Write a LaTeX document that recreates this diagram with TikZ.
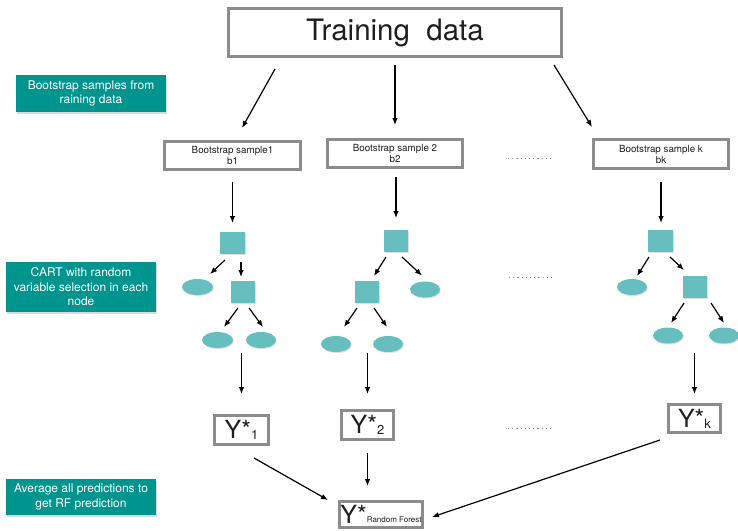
\documentclass[tikz,border=0pt]{standalone}
\usepackage{fontspec}
\setmainfont{TeX Gyre Heros}
\usepackage{tikz}
\usetikzlibrary{arrows.meta,positioning,fit,calc,shapes.geometric,shadows}
\definecolor{tealdark}{HTML}{00948F}
\definecolor{teallight}{HTML}{67BEBE}
\definecolor{framegray}{HTML}{8C8C8C}
\definecolor{inkgray}{HTML}{1E1E1E}
\tikzset{
  frame/.style={draw=framegray, line width=3.3pt, fill=white, inner sep=0pt, outer sep=0pt, align=center, text=inkgray},
  sample/.style={frame, minimum width=135pt, minimum height=28pt, font=\fontsize{9.8}{11}\selectfont},
  pred/.style={frame, minimum width=53pt, minimum height=29pt},
  note/.style={fill=tealdark, text=white, inner sep=0pt, outer sep=0pt, align=center, minimum width=150pt, font=\fontsize{12}{14.5}\selectfont, drop shadow={shadow xshift=1pt, shadow yshift=-1.5pt, opacity=.3}},
  split/.style={rectangle, fill=teallight, inner sep=0pt, outer sep=0pt, minimum width=25pt, minimum height=22pt, drop shadow={shadow xshift=.8pt, shadow yshift=-1pt, opacity=.25}},
  leaf/.style={ellipse, fill=teallight, inner sep=0pt, outer sep=0pt, minimum width=31pt, minimum height=16pt, drop shadow={shadow xshift=.8pt, shadow yshift=-1pt, opacity=.25}},
  tree/.style={inner sep=0pt, outer sep=0pt},
  arr/.style={-{Latex[length=7pt,width=5.5pt]}, line width=1.2pt},
  gap/.style={draw=framegray, line width=1pt, dash pattern=on 1.2pt off 3pt},
}
\newcommand{\ystar}[1]{{\fontsize{25}{25}\selectfont Y*}\raisebox{-1pt}{\fontsize{13}{13}\selectfont #1}}

\begin{document}
\begin{tikzpicture}[x=1pt, y=-1pt]
\useasboundingbox (0,0) rectangle (738,530);
\node[frame, minimum width=333pt, minimum height=48pt, font=\fontsize{29.5}{29.5}\selectfont] (td) at (395,32.5) {Training\ \ data};
\node[note, minimum height=37pt] (n1) at (91,93.5) {Bootstrap samples from\\raining data};
\node[note, minimum height=50pt] (n2) at (81,287) {CART with random\\variable selection in each\\node};
\node[note, minimum height=36pt] (n3) at (81,497) {Average all predictions to\\get RF prediction};
\node[sample, minimum width=136pt] (b1) at (232.5,155.5) {Bootstrap sample1\\b1};
\node[sample] (b2) at (395,153.5) {Bootstrap sample 2\\b2};
\node[sample, minimum height=29pt] (b3) at (661,154) {Bootstrap sample k\\bk};
\node[split] (s1a) at (232.5,243) {};
\node[leaf] (e1a) at (197.5,287) {};
\node[split, minimum width=24pt] (s1b) at (243,292) {};
\node[leaf] (e1b) at (217.5,340) {};
\node[leaf, minimum width=30pt] (e1c) at (261,340) {};
\node[split, minimum width=24pt] (s2a) at (396,241) {};
\node[split, minimum width=24pt] (s2b) at (367,292) {};
\node[leaf, minimum width=30pt] (e2a) at (425,289.5) {};
\node[leaf, minimum width=30pt] (e2b) at (336,344) {};
\node[leaf, minimum width=30pt] (e2c) at (388,344) {};
\node[split] (s3a) at (660.5,241) {};
\node[leaf, minimum width=30pt] (e3a) at (632,287) {};
\node[split, minimum width=24pt] (s3b) at (695,287) {};
\node[leaf, minimum width=30pt] (e3b) at (668,335.5) {};
\node[leaf, minimum width=30pt] (e3c) at (724,335.5) {};
\node[tree, fit=(s1a)(e1a)(e1b)(e1c)] (t1) {};
\node[tree, fit=(s2a)(e2a)(e2b)(e2c)] (t2) {};
\node[tree, fit=(s3a)(e3a)(e3b)(e3c)] (t3) {};
\node[pred, minimum width=54pt] (y1) at (241.5,430) {\ystar{1}};
\node[pred, minimum width=52pt] (y2) at (367.5,425) {\ystar{2}};
\node[pred, minimum width=52pt, minimum height=28pt] (yk) at (694.5,418.5) {\ystar{k}};
\node[frame, minimum width=83pt, minimum height=26pt] (rf) at (381,514.5) {{\fontsize{25}{25}\selectfont Y*}\raisebox{1pt}{\fontsize{8}{8}\selectfont Random Forest}};
\coordinate (g1a) at (508,158); \coordinate (g1b) at (554,158);
\coordinate (g2a) at (509,277); \coordinate (g2b) at (554,277);
\coordinate (g3a) at (508,428); \coordinate (g3b) at (554,428);
\draw[gap] (g1a) -- (g1b); \draw[gap] (g2a) -- (g2b); \draw[gap] (g3a) -- (g3b);
\draw[arr] ($(td.south)+(-120,12.5)$) -- ($(b1.north)+(9.5,-13.5)$);
\draw[arr] ($(td.south)+(0,8.5)$) -- ($(b2.north)+(0,-14.5)$);
\draw[arr] ($(td.south)+(159,8.5)$) -- ($(b3.north)+(-69,-12.5)$);
\draw[arr] ($(b1.south)+(0,12.5)$) -- ($(s1a.north)+(0,-9)$);
\draw[arr] ($(s1a.south)+(-7.5,6)$) -- ($(e1a.north)+(12.5,-5)$);
\draw[arr] ($(s1a.south)+(8.5,8)$) -- ($(s1b.north)+(-2,-4)$);
\draw[arr] ($(s1b.south)+(-5,5)$) -- ($(e1b.north)+(6.5,-5)$);
\draw[arr] ($(s1b.south)+(6,5)$) -- ($(e1c.north)+(2,-5)$);
\draw[arr] ($(b2.south)+(1,9.5)$) -- ($(s2a.north)+(0,-12)$);
\draw[arr] ($(s2a.south)+(-10,5)$) -- ($(s2b.north)+(7,-5)$);
\draw[arr] ($(s2a.south)+(6,5)$) -- ($(e2a.north)+(-3,-6)$);
\draw[arr] ($(s2b.south)+(-10,5)$) -- ($(e2b.north)+(8,-9)$);
\draw[arr] ($(s2b.south)+(7,5)$) -- ($(e2c.north)+(-1,-9)$);
\draw[arr] ($(b3.south)+(0,13.5)$) -- ($(s3a.north)+(0.5,-7)$);
\draw[arr] ($(s3a.south)+(-11.5,5)$) -- ($(e3a.north)+(5,-3)$);
\draw[arr] ($(s3a.south)+(9.5,5)$) -- ($(s3b.north)+(-11,-6)$);
\draw[arr] ($(s3b.south)+(-11,5)$) -- ($(e3b.north)+(3,-4.5)$);
\draw[arr] ($(s3b.south)+(16,5)$) -- ($(e3c.north)+(0,-4.5)$);
\draw[arr] ($(t1.south -| y1.north)+(0,5)$) -- ($(y1.north)+(0,-21.5)$);
\draw[arr] ($(t2.south -| y2.north)+(0,1)$) -- ($(y2.north)+(0,-16.5)$);
\draw[arr] ($(t3.south -| yk.north)+(0,9.5)$) -- ($(yk.north)+(0,-10.5)$);
\draw[arr] ($(y1.south)+(12.5,13.5)$) -- ($(rf.north west)+(-11.5,-1.5)$);
\draw[arr] ($(y2.south)+(0,13.5)$) -- ($(y2.south |- rf.north)+(0,-15.5)$);
\draw[arr] ($(yk.south)+(-34.5,7.5)$) -- ($(rf.east)+(9.5,2.5)$);
\end{tikzpicture}
\end{document}
